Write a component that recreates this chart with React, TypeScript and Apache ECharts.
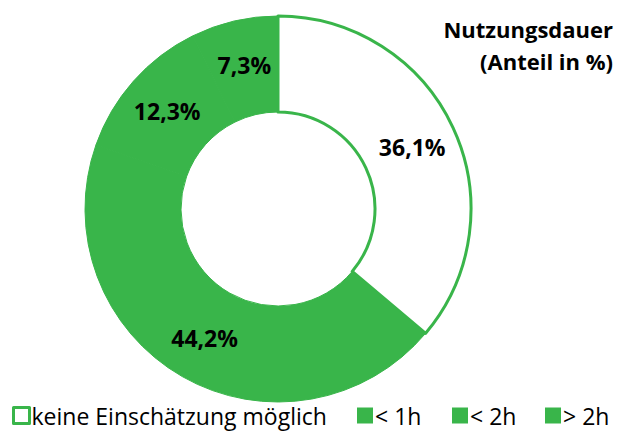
import React, { useEffect, useRef } from "react";
import * as echarts from "echarts";

const categories = ["keine Einschätzung möglich", "< 1h", "< 2h", "> 2h"];
const values = [36.1, 44.2, 12.3, 7.3];
const titleLines = ["Nutzungsdauer", "(Anteil in %)"];

const GREEN = "#39B54A";
const FONT = "'Open Sans', Lato, sans-serif";

export default function App() {
  const ref = useRef<HTMLDivElement>(null);
  useEffect(() => {
    if (!ref.current) return;
    const chart = echarts.init(ref.current, undefined, { renderer: "svg" });
    const legendLefts = [12, 357, 452, 545];
    const data = categories.map((name, i) => ({
      name,
      value: values[i],
      itemStyle:
        i === 0
          ? { color: "#ffffff", borderColor: GREEN, borderWidth: 3 }
          : { color: GREEN, borderColor: GREEN, borderWidth: 1 },
    }));
    chart.setOption({
      animation: false,
      backgroundColor: "#ffffff",
      graphic: [
        {
          type: "text",
          x: 613,
          y: 13,
          style: {
            text: titleLines.join("\n"),
            align: "right",
            verticalAlign: "top",
            fontFamily: FONT,
            fontWeight: "bold",
            fontSize: 22,
            lineHeight: 32,
            fill: "#000",
          },
        },
      ],
      legend: categories.map((name, i) => ({
        left: legendLefts[i],
        top: 401,
        itemWidth: 16,
        itemHeight: 16,
        itemGap: 0,
        padding: 0,
        selectedMode: false,
        textStyle: { fontFamily: FONT, fontSize: 23, lineHeight: 29, color: "#000", padding: [0, 0, 0, -3] },
        data: [
          {
            name,
            icon: "rect",
            itemStyle:
              i === 0
                ? { color: "#ffffff", borderColor: GREEN, borderWidth: 3 }
                : { color: GREEN, borderWidth: 0 },
          },
        ],
      })),
      series: [
        {
          type: "pie",
          center: [278, 209],
          radius: [97, 193],
          startAngle: 90,
          clockwise: true,
          data,
          label: {
            show: true,
            position: "inside",
            formatter: (p: any) => p.value.toFixed(1).replace(".", ",") + "%",
            fontFamily: FONT,
            fontWeight: "bold",
            fontSize: 23,
            color: "#000",
          },
          labelLine: { show: false },
          emphasis: { disabled: true },
        },
      ],
    });
    return () => chart.dispose();
  }, []);
  return <div ref={ref} style={{ width: 624, height: 432, position: "absolute", left: 0, top: 0 }} />;
}
